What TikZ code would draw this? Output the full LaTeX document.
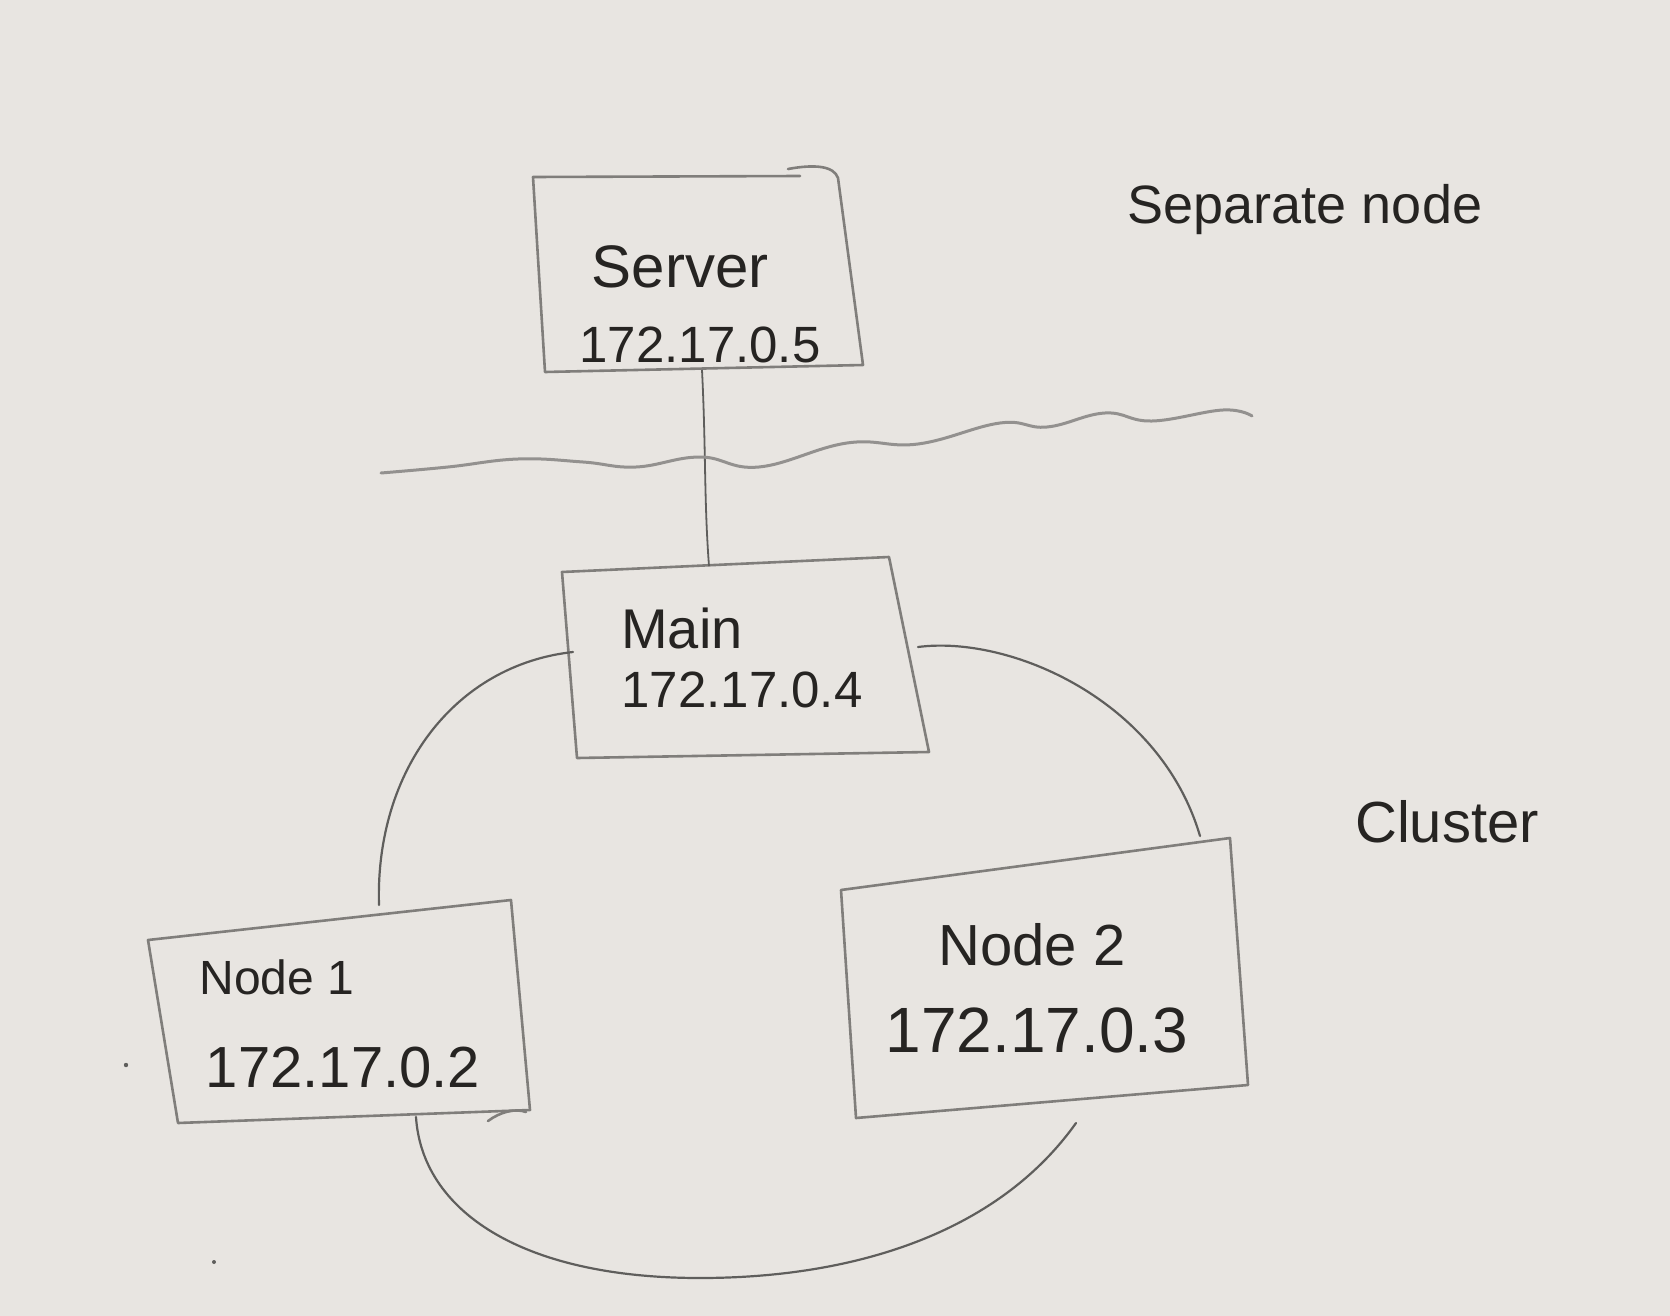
\documentclass[tikz,border=0pt]{standalone}
\usepackage{fontspec}
\setmainfont{Liberation Sans}
\definecolor{paper}{RGB}{232,229,225}
\definecolor{ink}{RGB}{38,36,34}
\definecolor{pencil}{RGB}{128,126,123}
\definecolor{lead}{RGB}{95,94,92}
\begin{document}
\begin{tikzpicture}[x=1pt,y=-1pt,
  boxline/.style={draw=pencil,line width=2.6pt,line join=round,line cap=round},
  ring/.style={draw=lead,line width=2.2pt,line cap=round},
  wave/.style={draw=pencil!85,line width=3pt,line cap=round},
  lbl/.style={text=ink,inner sep=0pt,anchor=center}]
\fill[paper] (0,0) rectangle (1670,1316);
\useasboundingbox (0,0) rectangle (1670,1316);

% ---- box corners
\coordinate (sTL) at (533,177); \coordinate (sTR) at (838,178);
\coordinate (sBR) at (863,365); \coordinate (sBL) at (545,372);
\coordinate (mTL) at (562,572); \coordinate (mTR) at (889,557);
\coordinate (mBR) at (929,752); \coordinate (mBL) at (577,758);
\coordinate (aTL) at (148,940); \coordinate (aTR) at (511,900);
\coordinate (aBR) at (530,1110); \coordinate (aBL) at (178,1123);
\coordinate (bTL) at (841,890); \coordinate (bTR) at (1230,838);
\coordinate (bBR) at (1248,1085); \coordinate (bBL) at (856,1118);

% ---- boxes
\draw[boxline] (800,176) -- (sTL) -- (sBL) -- (sBR) -- (sTR)
   .. controls (834,166) and (815,164) .. (788,169);
\draw[boxline] (mTL) -- (mTR) -- (mBR) -- (mBL) -- cycle;
\draw[boxline] (aTL) -- (aTR) -- (aBR) -- (aBL) -- cycle;
\draw[boxline] (488,1121) .. controls (500,1112) and (515,1108) .. (526,1112);
\draw[boxline] (bTL) -- (bTR) -- (bBR) -- (bBL) -- cycle;

% ---- texts
\node[lbl,font=\fontsize{60}{60}\selectfont] (srvname) at (680,267) {Server};
\node[lbl,font=\fontsize{51}{51}\selectfont] (srvip) at (700,345) {172.17.0.5};
\node[lbl,font=\fontsize{56}{56}\selectfont] (mainname) at (682,628) {Main};
\node[lbl,font=\fontsize{51}{51}\selectfont] (mainip) at (742,690) {172.17.0.4};
\node[lbl,font=\fontsize{48}{48}\selectfont] (n1name) at (277,977) {Node 1};
\node[lbl,font=\fontsize{58}{58}\selectfont] (n1ip) at (343,1068) {172.17.0.2};
\node[lbl,font=\fontsize{58}{58}\selectfont] (n2name) at (1032,945) {Node 2};
\node[lbl,font=\fontsize{64}{64}\selectfont] (n2ip) at (1037,1030) {172.17.0.3};
\node[lbl,font=\fontsize{54}{54}\selectfont] (sep) at (1305,210) {Separate node};
\node[lbl,font=\fontsize{58}{58}\selectfont] (cluster) at (1447,822) {Cluster};

% ---- connector server -> main
\coordinate (srvB) at (702,370);
\coordinate (mainT) at (709,566);
\draw[draw=lead,line width=1.8pt] (srvB) .. controls (706,450) and (704,500) .. (mainT);

% ---- wavy separator
\coordinate (wL) at (381,473);
\coordinate (wR) at (1252,416);
\draw[wave] plot[smooth,tension=0.7] coordinates {(wL) (448,467) (518,459) (583,462) (636,467) (700,457) (759,467) (847,443) (918,444) (1000,423) (1047,427) (1105,413) (1152,421) (1223,410) (wR)};

% ---- cluster ring
\coordinate (mainL) at (573,652);
\coordinate (mainR) at (918,647);
\coordinate (n1T) at (379,905);
\coordinate (n1B) at (416,1117);
\coordinate (n2T) at (1200,836);
\coordinate (n2B) at (1076,1123);
\coordinate (ringBot) at (700,1278);
\draw[ring] (mainL) .. controls (455,665) and (375,770) .. (n1T);
\draw[ring] (mainR) .. controls (1010,635) and (1160,700) .. (n2T);
\draw[ring] (n1B) .. controls (422,1210) and (520,1278) .. (ringBot)
   .. controls (860,1278) and (1000,1230) .. (n2B);

% ---- stray pencil dots
\fill[lead] (126,1065) circle (2.2);
\fill[lead] (214,1262) circle (2);
\end{tikzpicture}
\end{document}
